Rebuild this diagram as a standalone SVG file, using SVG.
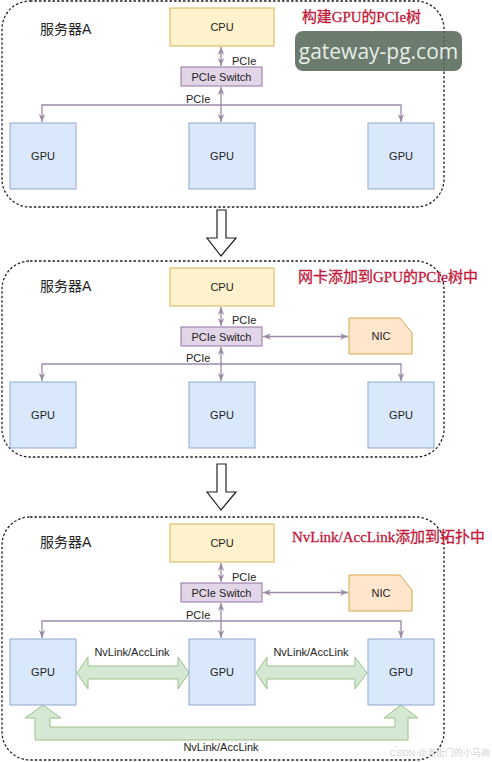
<svg xmlns="http://www.w3.org/2000/svg" width="492" height="762" viewBox="0 0 492 762">
<style>
.panel{fill:none;stroke:#222;stroke-width:1.3;stroke-dasharray:2.5 2}
.cpu{fill:#fff2cc;stroke:#d6b656;stroke-width:1}
.sw{fill:#e1d5e7;stroke:#9673a6;stroke-width:1}
.gpu{fill:#dae8fc;stroke:#8fa9cf;stroke-width:1}
.nic{fill:#ffe6cc;stroke:#d7a64a;stroke-width:1}
.nv{fill:#d5e8d4;stroke:#9cc18a;stroke-width:1}
.t{font-family:"Liberation Sans","Noto Sans CJK SC",sans-serif;font-size:11px;fill:#222;text-anchor:middle}
.lbl{font-family:"Liberation Sans","Noto Sans CJK SC",sans-serif;font-size:11px;fill:#222}
.srv{font-family:"Liberation Sans","Noto Sans CJK SC",sans-serif;font-size:14px;fill:#222}
.title{font-family:"Liberation Serif","Noto Sans CJK SC",serif;font-size:15px;fill:#c2183a;stroke:#c2183a;stroke-width:0.3}
.ln{fill:none;stroke:#9a8aa8;stroke-width:1.3}
.big{fill:#fff;stroke:#222;stroke-width:1.2}
</style>
<defs>
<marker id="ah" viewBox="0 0 10 10" refX="10" refY="5" markerUnits="userSpaceOnUse" markerWidth="8" markerHeight="8" orient="auto-start-reverse">
<path d="M0,1 L10,5 L0,9 L3,5 z" fill="#9a8aa8"/>
</marker>
</defs>

<!-- panels -->
<g id="panel1"><rect class="panel" x="2" y="1" width="442" height="206" rx="28"/></g>
<g id="panel2"><rect class="panel" x="2" y="261" width="442" height="196" rx="28"/></g>
<g id="panel3"><rect class="panel" x="2" y="517" width="442" height="243" rx="28"/></g>

<!-- big down arrows -->
<g id="down1"><polygon class="big" points="217,210 226,210 226,238 236,238 221,256 207,238 217,238"/></g>
<g id="down2"><polygon class="big" points="217,464 226,464 226,492 236,492 221,510 207,492 217,492"/></g>

<!-- titles -->
<g id="titles">
<text class="srv" x="40" y="34">服务器A</text>
<text class="title" x="302" y="22" textLength="119" lengthAdjust="spacingAndGlyphs">构建GPU的PCIe树</text>
<text class="srv" x="40" y="291">服务器A</text>
<text class="title" x="298" y="282" textLength="180" lengthAdjust="spacingAndGlyphs">网卡添加到GPU的PCIe树中</text>
<text class="srv" x="40" y="547">服务器A</text>
<text class="title" x="292" y="542" textLength="193" lengthAdjust="spacingAndGlyphs">NvLink/AccLink添加到拓扑中</text>
</g>

<!-- connectors -->
<g id="connectors">
<line class="ln" x1="221" y1="47" x2="221" y2="66" marker-start="url(#ah)" marker-end="url(#ah)"/>
<line class="ln" x1="221" y1="87" x2="221" y2="122" marker-start="url(#ah)" marker-end="url(#ah)"/>
<path class="ln" d="M42,122 L42,105 L401,105 L401,122" marker-start="url(#ah)" marker-end="url(#ah)"/>
<text class="lbl" x="232" y="65">PCIe</text>
<text class="lbl" x="186" y="103">PCIe</text>

<line class="ln" x1="221" y1="307" x2="221" y2="326" marker-start="url(#ah)" marker-end="url(#ah)"/>
<line class="ln" x1="221" y1="347" x2="221" y2="381" marker-start="url(#ah)" marker-end="url(#ah)"/>
<path class="ln" d="M42,381 L42,364 L401,364 L401,381" marker-start="url(#ah)" marker-end="url(#ah)"/>
<line class="ln" x1="263" y1="336.5" x2="348" y2="336.5" marker-start="url(#ah)" marker-end="url(#ah)"/>
<text class="lbl" x="232" y="324">PCIe</text>
<text class="lbl" x="186" y="362">PCIe</text>

<line class="ln" x1="221" y1="563" x2="221" y2="582" marker-start="url(#ah)" marker-end="url(#ah)"/>
<line class="ln" x1="221" y1="603" x2="221" y2="638" marker-start="url(#ah)" marker-end="url(#ah)"/>
<path class="ln" d="M42,638 L42,621 L401,621 L401,638" marker-start="url(#ah)" marker-end="url(#ah)"/>
<line class="ln" x1="263" y1="592.5" x2="348" y2="592.5" marker-start="url(#ah)" marker-end="url(#ah)"/>
<text class="lbl" x="232" y="581">PCIe</text>
<text class="lbl" x="186" y="619">PCIe</text>

<polygon class="nv" points="77,673 88,657 88,666 178,666 178,657 189,673 178,689 178,679 88,679 88,689"/>
<polygon class="nv" points="256,673 267,657 267,666 355,666 355,657 367,673 355,689 355,679 267,679 267,689"/>
<polygon class="nv" points="43,705 61,718 50,718 50,727 395,727 395,718 384,718 401,705 418,718 408,718 408,740 35,740 35,718 25,718"/>
<text class="t" x="132" y="656">NvLink/AccLink</text>
<text class="t" x="311" y="656">NvLink/AccLink</text>
<text class="t" x="221" y="751">NvLink/AccLink</text>
</g>

<!-- panel 1 nodes -->
<g id="cpu1"><rect class="cpu" x="170" y="8" width="104" height="38"/><text class="t" x="222" y="31">CPU</text></g>
<g id="switch1"><rect class="sw" x="181" y="67" width="81" height="19"/><text class="t" x="221.5" y="80.5">PCIe Switch</text></g>
<g id="gpu1a"><rect class="gpu" x="10" y="123" width="66" height="66"/><text class="t" x="43" y="160">GPU</text></g>
<g id="gpu1b"><rect class="gpu" x="189" y="123" width="66" height="66"/><text class="t" x="222" y="160">GPU</text></g>
<g id="gpu1c"><rect class="gpu" x="368" y="123" width="66" height="66"/><text class="t" x="401" y="160">GPU</text></g>

<!-- panel 2 nodes -->
<g id="cpu2"><rect class="cpu" x="170" y="268" width="104" height="38"/><text class="t" x="222" y="291">CPU</text></g>
<g id="switch2"><rect class="sw" x="181" y="327" width="81" height="19"/><text class="t" x="221.5" y="340.5">PCIe Switch</text></g>
<g id="nic2"><path class="nic" d="M349,318 L400,318 L412,333 L412,354 L349,354 Z"/><text class="t" x="381" y="340">NIC</text></g>
<g id="gpu2a"><rect class="gpu" x="10" y="382" width="66" height="66"/><text class="t" x="43" y="419">GPU</text></g>
<g id="gpu2b"><rect class="gpu" x="189" y="382" width="66" height="66"/><text class="t" x="222" y="419">GPU</text></g>
<g id="gpu2c"><rect class="gpu" x="368" y="382" width="66" height="66"/><text class="t" x="401" y="419">GPU</text></g>

<!-- panel 3 nodes -->
<g id="cpu3"><rect class="cpu" x="170" y="524" width="104" height="38"/><text class="t" x="222" y="547">CPU</text></g>
<g id="switch3"><rect class="sw" x="181" y="583" width="81" height="19"/><text class="t" x="221.5" y="596.5">PCIe Switch</text></g>
<g id="nic3"><path class="nic" d="M349,575 L400,575 L412,590 L412,611 L349,611 Z"/><text class="t" x="381" y="597">NIC</text></g>
<g id="gpu3a"><rect class="gpu" x="10" y="639" width="66" height="66"/><text class="t" x="43" y="676">GPU</text></g>
<g id="gpu3b"><rect class="gpu" x="189" y="639" width="66" height="66"/><text class="t" x="222" y="676">GPU</text></g>
<g id="gpu3c"><rect class="gpu" x="368" y="639" width="66" height="66"/><text class="t" x="401" y="676">GPU</text></g>

<!-- watermarks -->
<g id="watermark">
<rect x="295" y="31" width="167" height="40" rx="8" fill="#56695a" fill-opacity="0.88"/>
<text x="378.5" y="59" font-family="'Open Sans','DejaVu Sans',sans-serif" font-size="21" fill="#e6eee6" text-anchor="middle">gateway-pg.com</text>
<text x="490" y="756" font-family="'Liberation Sans','Noto Sans CJK SC',sans-serif" font-size="9" fill="#d4d4d4" text-anchor="end">CSDN @老街门的小马驹</text>
</g>
</svg>
